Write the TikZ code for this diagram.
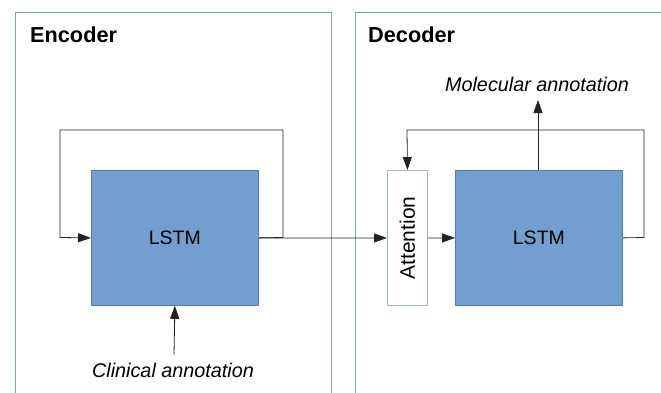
\documentclass[tikz,border=0pt]{standalone}
\usepackage{fontspec}
\setmainfont{Liberation Sans}
\usetikzlibrary{arrows.meta}
\definecolor{frameblue}{HTML}{7F9CD0}
\definecolor{lstmfill}{HTML}{729FCF}
\definecolor{lstmedge}{HTML}{4F7CC0}
\definecolor{attedge}{HTML}{9DB8E0}
\definecolor{linegray}{HTML}{222222}
\tikzset{
  frame/.style={draw=frameblue, line width=0.9pt},
  lstmbox/.style={draw=lstmedge, fill=lstmfill, line width=0.8pt, minimum width=167pt, minimum height=135pt, inner sep=0pt, font=\fontsize{19.5}{22}\selectfont},
  attbox/.style={draw=attedge, fill=white, line width=0.9pt, minimum width=40pt, minimum height=135pt, inner sep=0pt},
  conn/.style={draw=linegray, line width=0.8pt},
  arr/.style={conn, -{Triangle[length=13pt,width=9pt]}},
  title/.style={font=\fontsize{21.7}{24}\selectfont\bfseries, anchor=base west, inner sep=0pt},
  annot/.style={font=\fontsize{19.8}{22}\selectfont\itshape, anchor=base, inner sep=0pt}
}
\begin{document}
\begin{tikzpicture}[x=1pt,y=-1pt]
\useasboundingbox (0,0) rectangle (661,392);
% frames
\draw[frame] (15.5,400) -- (15.5,12) -- (331,12) -- (331,400);
\draw[frame] (355.5,400) -- (355.5,12) -- (670,12);
\node[title] (enc) at (30,42.5) {Encoder};
\node[title] (dec) at (368,42) {Decoder};
% encoder
\node[lstmbox, anchor=north west] (elstm) at (91,170) {LSTM};
\coordinate (eR) at (283,237.5);
\coordinate (eTR) at (283,130);
\coordinate (eTL) at (60,130);
\coordinate (eL) at (60,237.5);
\draw[arr] (elstm.east) -- (eR) -- (eTR) -- (eTL) -- (eL) -- (elstm.west);
\node[annot] (clin) at (173,377) {Clinical annotation};
\draw[arr] (174,355) -- (elstm.south);
% decoder
\node[attbox, anchor=north west] (att) at (387,170) {\rotatebox{90}{\fontsize{21}{23}\selectfont Attention}};
\node[lstmbox, anchor=north west] (dlstm) at (455,170) {LSTM};
\draw[arr] (elstm.east) -- (att.west);
\draw[arr] (att.east) -- (dlstm.west);
\coordinate (dR) at (644,237.5);
\coordinate (dTR) at (644,130);
\coordinate (dTL) at (407,130);
\draw[arr] (dlstm.east) -- (dR) -- (dTR) -- (dTL) -- (att.north);
\node[annot] (mol) at (537,91.5) {Molecular annotation};
\draw[arr] (dlstm.north -| 538,0) -- (538,100);
\end{tikzpicture}
\end{document}
